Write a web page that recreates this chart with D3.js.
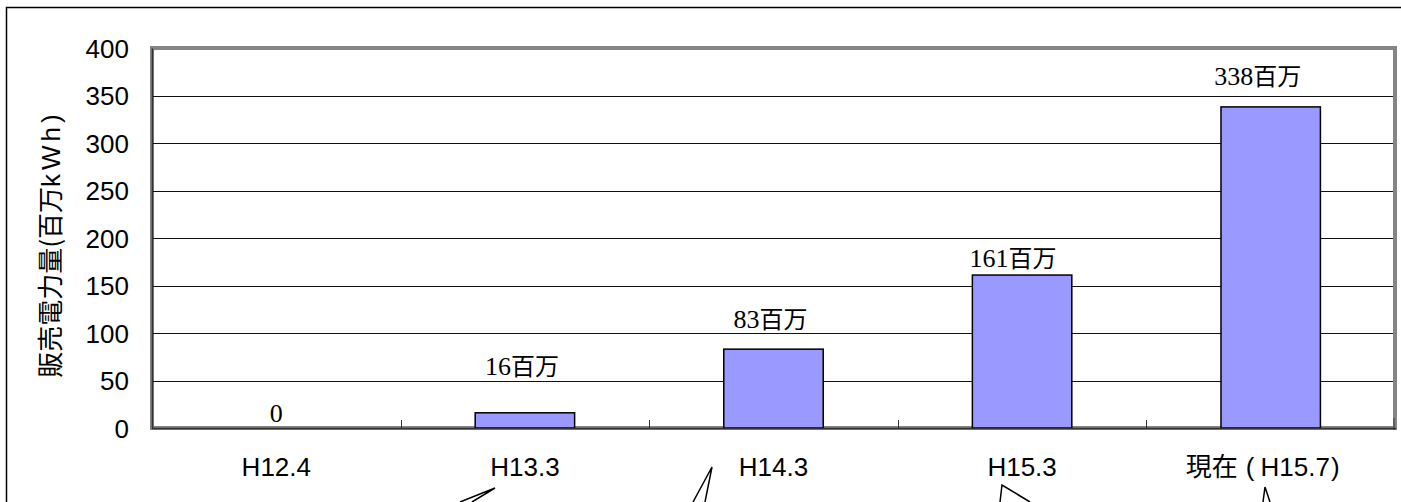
<!DOCTYPE html>
<html>
<head>
<meta charset="utf-8">
<script src="https://cdn.jsdelivr.net/npm/d3@7"></script>
<style>
  html, body { margin: 0; padding: 0; background: #fff; }
  svg { display: block; }
</style>
</head>
<body>
<svg id="chart" width="1401" height="502"></svg>
<script>
// ---- data ----
const categories = ["H12.4", "H13.3", "H14.3", "H15.3", "現在(H15.7)"];
const salesValues = [0, 16, 83, 161, 338];
const valueLabels = ["0", "16", "83", "161", "338"];
const labelUnit = ["", "百万", "百万", "百万", "百万"];
const yTicks = [0, 50, 100, 150, 200, 250, 300, 350, 400];
const yTitleMain = "販売電力量(百万";
const yTitleUnit = "kWh)";

// ---- layout ----
const W = 1401, H = 502;
const plot = { left: 152, right: 1395, top: 48, bottom: 428 };
const labelLift = [6, 38, 21, 8, 22];
const labelShift = [0, -3, -3, -9, -13];

const svg = d3.select("#chart");
svg.append("rect").attr("width", W).attr("height", H).attr("fill", "#fff");

// outer frame (only top and left visible)
svg.append("path")
  .attr("d", `M6.5,${H} L6.5,7.5 L${W},7.5`)
  .attr("fill", "none").attr("stroke", "#000").attr("stroke-width", 1.5);

const x = d3.scaleBand().domain(categories)
  .range([plot.left, plot.right]).paddingInner(0.6).paddingOuter(0.3);
const xStep = d3.scaleBand().domain(categories).range([plot.left, plot.right]);
const y = d3.scaleLinear().domain([0, 400]).range([plot.bottom, plot.top]);

// plot area border (grey)
svg.append("rect")
  .attr("x", plot.left).attr("y", plot.top)
  .attr("width", plot.right - plot.left).attr("height", plot.bottom - plot.top)
  .attr("fill", "#fff").attr("stroke", "#858585").attr("stroke-width", 4);

// gridlines
svg.append("g").selectAll("line")
  .data(yTicks.filter(t => t > 0 && t < 400))
  .join("line")
  .attr("x1", plot.left).attr("x2", plot.right - 2)
  .attr("y1", d => Math.round(y(d)) + 0.5).attr("y2", d => Math.round(y(d)) + 0.5)
  .attr("stroke", "#111").attr("stroke-width", 1);

// y axis
const yAxis = d3.axisLeft(y).tickValues(yTicks).tickSize(0).tickPadding(23);
const gy = svg.append("g").attr("transform", `translate(${plot.left},0)`).call(yAxis);
gy.select(".domain").attr("stroke", "#333").attr("stroke-width", 1.5);
gy.selectAll("text")
  .attr("font-family", "'Liberation Sans', Arial, sans-serif")
  .attr("font-size", 26).attr("fill", "#000").attr("dy", "0.36em");

// bars
svg.append("g").selectAll("rect")
  .data(salesValues)
  .join("rect")
  .attr("x", (d, i) => x(categories[i]))
  .attr("width", x.bandwidth())
  .attr("y", d => y(d))
  .attr("height", d => y(0) - y(d))
  .attr("fill", "#9999FF")
  .attr("stroke", d => d > 0 ? "#000" : "none")
  .attr("stroke-width", 1.5);

// x axis line and inner ticks
svg.append("line")
  .attr("x1", plot.left).attr("x2", plot.right + 1)
  .attr("y1", plot.bottom + 0.5).attr("y2", plot.bottom + 0.5)
  .attr("stroke", "#333").attr("stroke-width", 1.5);
svg.append("g").selectAll("line")
  .data(categories.slice(1))
  .join("line")
  .attr("x1", d => Math.round(xStep(d)) + 0.5).attr("x2", d => Math.round(xStep(d)) + 0.5)
  .attr("y1", plot.bottom - 8).attr("y2", plot.bottom)
  .attr("stroke", "#333").attr("stroke-width", 1);
svg.append("line")
  .attr("x1", plot.right - 1).attr("x2", plot.right - 1)
  .attr("y1", plot.bottom - 10).attr("y2", plot.bottom + 2)
  .attr("stroke", "#333").attr("stroke-width", 1);

// x axis labels
const xAxis = d3.axisBottom(xStep).tickSize(0).tickPadding(30);
const gx = svg.append("g").attr("transform", `translate(0,${plot.bottom})`).call(xAxis);
gx.select(".domain").remove();
gx.selectAll("text")
  .attr("font-family", "'Liberation Sans', Arial, 'Noto Sans CJK JP', sans-serif")
  .attr("font-size", 26).attr("fill", "#000");
// last label: kanji + spaced parentheses
gx.selectAll("text").filter(d => d === categories[4]).each(function(d) {
  const t = d3.select(this).text("").attr("dx", -8);
  const m = d.match(/^(.*)\((.*)\)$/);
  t.append("tspan").attr("font-family", "'Noto Sans CJK JP', sans-serif").text(m[1]);
  t.append("tspan").attr("dx", 8).text("(");
  t.append("tspan").attr("dx", 6).text(m[2]);
  t.append("tspan").attr("dx", 1).text(")");
});

// value labels
const lbl = svg.append("g").selectAll("text")
  .data(salesValues)
  .join("text")
  .attr("x", (d, i) => xStep(categories[i]) + xStep.bandwidth() / 2 + labelShift[i])
  .attr("y", (d, i) => y(d) - labelLift[i])
  .attr("text-anchor", "middle")
  .attr("fill", "#000");
lbl.append("tspan")
  .attr("font-family", "'Liberation Serif', 'Times New Roman', serif")
  .attr("font-size", 26)
  .text((d, i) => valueLabels[i]);
lbl.append("tspan")
  .attr("font-family", "'Noto Sans CJK JP', sans-serif")
  .attr("font-size", 24)
  .text((d, i) => labelUnit[i]);

// y title
const yt = svg.append("text")
  .attr("transform", `translate(60,244) rotate(-90)`)
  .attr("text-anchor", "middle")
  .attr("font-family", "'Noto Sans CJK JP', sans-serif")
  .attr("font-size", 26).attr("fill", "#000");
yt.append("tspan").text(yTitleMain);
yt.append("tspan").attr("font-family", "'Liberation Sans', Arial, sans-serif")
  .attr("letter-spacing", 4).text(yTitleUnit);

// callout pointers (from bubbles below the crop)
const pointers = [
  [[460, 502], [495, 488], [472, 502]],
  [[693, 502], [712, 467], [705, 502]],
  [[1000, 502], [1002, 485], [1030, 502]],
  [[1263, 502], [1265, 487], [1270, 502]]
];
svg.append("g").selectAll("path")
  .data(pointers)
  .join("path")
  .attr("d", d => d3.line()(d))
  .attr("fill", "none").attr("stroke", "#000").attr("stroke-width", 1.5);
</script>
</body>
</html>
